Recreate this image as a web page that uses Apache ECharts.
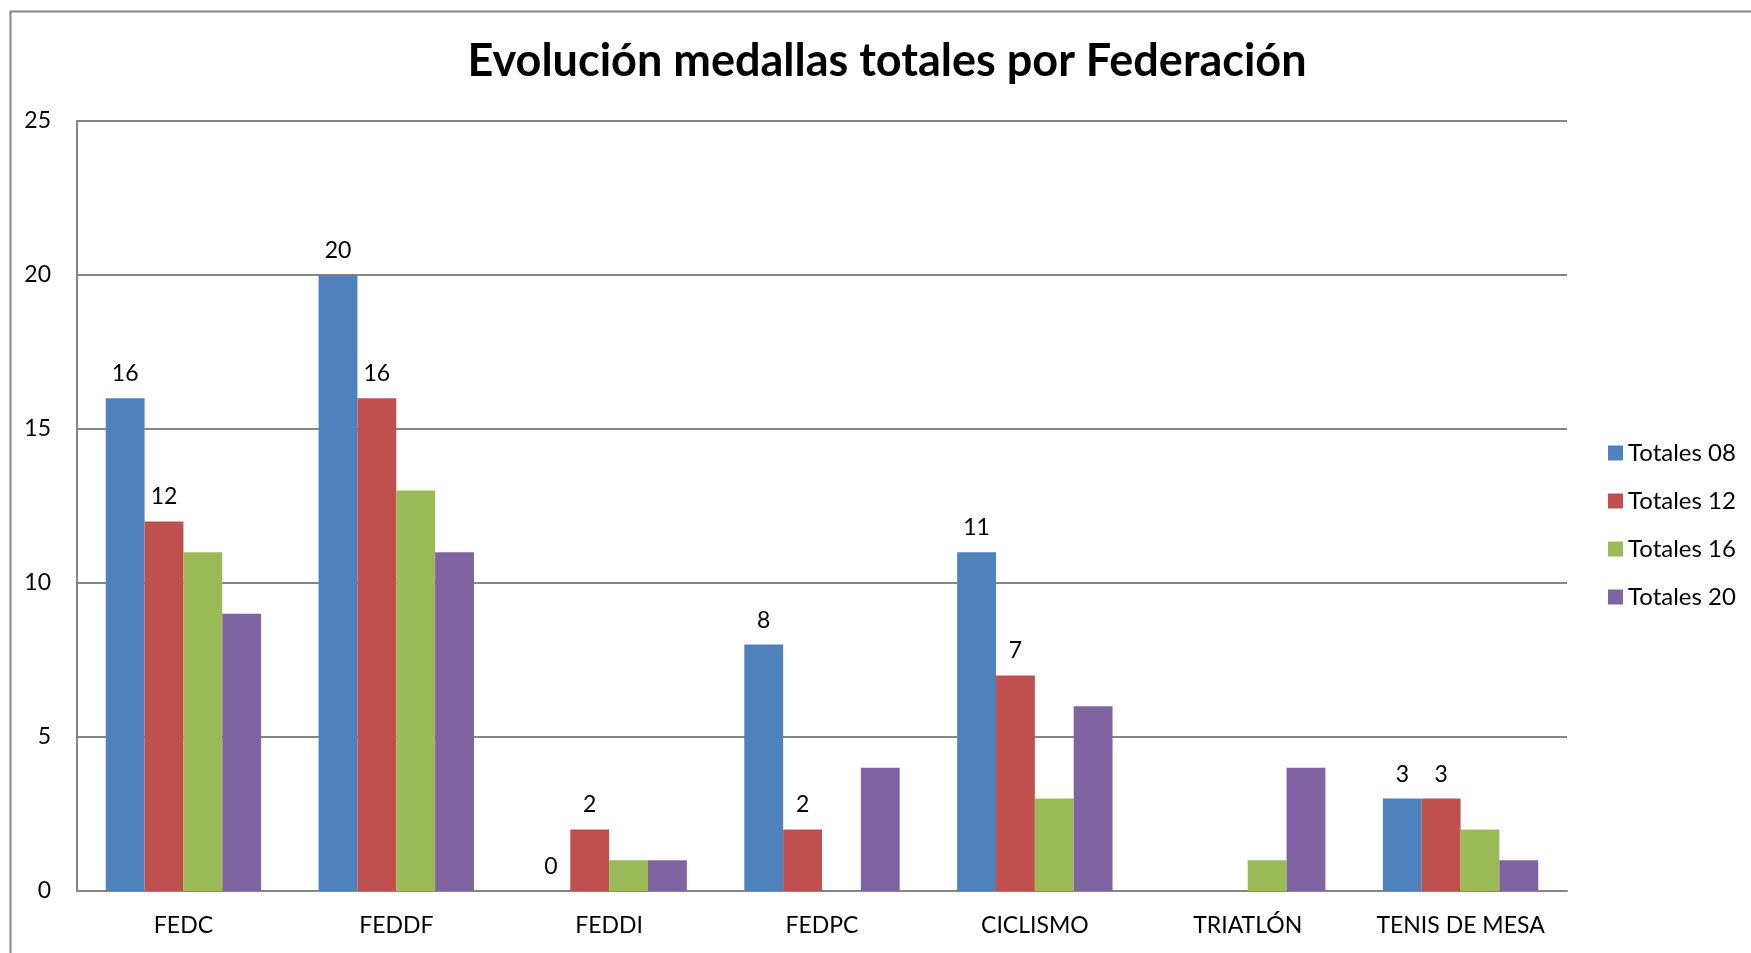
<!DOCTYPE html>
<html>
<head>
<meta charset="utf-8">
<script src="https://cdn.jsdelivr.net/npm/echarts@6/dist/echarts.min.js"></script>
<style>
    html, body { margin: 0; padding: 0; background: #fff; }
    #main { width: 1751px; height: 953px; }
</style>
</head>
<body>
<div id="main"></div>
<script>
    // datos
    const categories = ['FEDC', 'FEDDF', 'FEDDI', 'FEDPC', 'CICLISMO', 'TRIATLÓN', 'TENIS DE MESA'];
    const seriesNames = ['Totales 08', 'Totales 12', 'Totales 16', 'Totales 20'];
    const totales08 = [16, 20, 0, 8, 11, null, 3];
    const totales12 = [12, 16, 2, 2, 7, null, 3];
    const totales16 = [11, 13, 1, null, 3, 1, 2];
    const totales20 = [9, 11, 1, 4, 6, 4, 1];
    const yTicks = [0, 5, 10, 15, 20, 25];

    const colors = ['#4F81BD', '#C0504D', '#9BBB59', '#8064A2'];
    const values = [totales08, totales12, totales16, totales20];
    const font = 'Lato';

    let myChart = echarts.init(document.getElementById('main'));

    const series = values.map(function (data, i) {
        return {
            name: seriesNames[i],
            type: 'bar',
            data: data,
            barGap: '0%',
            barCategoryGap: '27%',
            itemStyle: { color: colors[i] },
            label: {
                show: i < 2,
                position: 'top',
                distance: 13,
                color: '#000',
                fontFamily: font,
                fontSize: 23
            },
            animation: false
        };
    });

    myChart.setOption({
        animation: false,
        graphic: [{
            type: 'rect',
            left: 8,
            top: 9,
            shape: { width: 1800, height: 1000 },
            style: { fill: 'none', stroke: '#868686', lineWidth: 2 },
            silent: true
        }],
        title: {
            text: 'Evolución medallas totales por Federación',
            left: 882,
            textAlign: 'center',
            top: 34,
            textStyle: {
                fontFamily: font,
                fontWeight: 'bold',
                fontSize: 45,
                color: '#000'
            }
        },
        legend: {
            orient: 'vertical',
            left: 1603,
            top: 436,
            itemWidth: 15,
            itemHeight: 15,
            itemGap: 24,
            icon: 'rect',
            data: seriesNames,
            textStyle: { fontFamily: font, fontSize: 24, color: '#000' }
        },
        grid: {
            left: 77,
            right: 184,
            top: 121,
            bottom: 62
        },
        xAxis: {
            type: 'category',
            data: categories,
            axisLine: { lineStyle: { color: '#868686', width: 2 } },
            axisTick: { show: false },
            axisLabel: { interval: 0, color: '#000', fontFamily: font, fontSize: 23, margin: 23 }
        },
        yAxis: {
            type: 'value',
            min: yTicks[0],
            max: yTicks[yTicks.length - 1],
            interval: 5,
            axisLine: { show: true, lineStyle: { color: '#868686', width: 2 } },
            axisTick: { show: false },
            splitLine: { lineStyle: { color: '#868686', width: 2 } },
            axisLabel: { color: '#000', fontFamily: font, fontSize: 23, margin: 26 }
        },
        series: series
    });
</script>
</body>
</html>
